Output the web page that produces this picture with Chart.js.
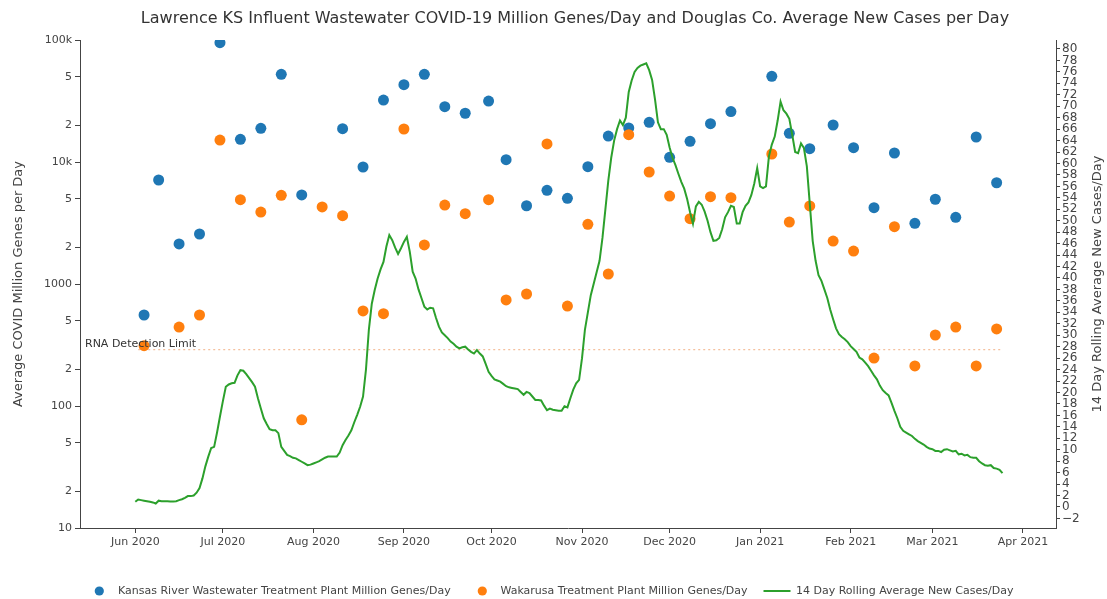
<!DOCTYPE html>
<html><head><meta charset="utf-8">
<script src="https://cdn.jsdelivr.net/npm/chart.js@4/dist/chart.umd.min.js"></script>
<style>html,body{margin:0;padding:0;background:#fff;}#wrap{width:1107px;height:599px;}</style>
</head><body><div id="wrap"><canvas id="c" width="1107" height="599"></canvas></div>
<script>
// ---------- DATA ----------
const chartTitle = 'Lawrence KS Influent Wastewater COVID-19 Million Genes/Day and Douglas Co. Average New Cases per Day';
const leftAxisTitle = 'Average COVID Million Genes per Day';
const rightAxisTitle = '14 Day Rolling Average New Cases/Day';
const seriesNames = ['Kansas River Wastewater Treatment Plant Million Genes/Day','Wakarusa Treatment Plant Million Genes/Day','14 Day Rolling Average New Cases/Day'];

const sampleDates = ['2020-06-04','2020-06-09','2020-06-16','2020-06-23','2020-06-30','2020-07-07','2020-07-14','2020-07-21','2020-07-28','2020-08-04','2020-08-11','2020-08-18','2020-08-25','2020-09-01','2020-09-08','2020-09-15','2020-09-22','2020-09-30','2020-10-06','2020-10-13','2020-10-20','2020-10-27','2020-11-03','2020-11-10','2020-11-17','2020-11-24','2020-12-01','2020-12-08','2020-12-15','2020-12-22','2021-01-05','2021-01-11','2021-01-18','2021-01-26','2021-02-02','2021-02-09','2021-02-16','2021-02-23','2021-03-02','2021-03-09','2021-03-16','2021-03-23'];
const kansasRiver = [557,7120,2130,2570,95000,15350,18900,52300,5370,null,18750,9100,32200,43000,52300,28400,25100,31600,10450,4380,5860,5040,9160,16330,19000,21150,10920,14770,20600,25900,50400,17200,12850,20100,13100,4220,11850,3140,4950,3520,16030,6760];
const wakarusa = [312,null,444,557,15140,4910,3890,5330,77,4280,3630,601,571,18640,2090,4440,3770,4910,740,828,14060,660,3085,1208,16740,8280,5260,3430,5200,5100,11630,3220,4360,2250,1860,247,2950,213,382,444,213,428];

const caseStartDate = '2020-06-01';
const caseAvg = [
0.9,1.3,1.2,1.1,1.0,0.9,0.8,0.6,1.1,1.0,
1.0,1.0,0.95,0.95,1.0,1.2,1.35,1.6,1.9,1.9,
2.0,2.5,3.3,5.0,7.1,8.8,10.3,10.5,13.0,15.8,
18.5,21.0,21.4,21.6,21.7,23.0,23.9,23.8,23.2,22.5,
21.8,21.0,19.0,17.2,15.5,14.5,13.6,13.4,13.4,12.9,
10.5,9.8,9.1,8.9,8.6,8.5,8.2,7.9,7.6,7.3,
7.4,7.6,7.8,8.0,8.3,8.6,8.8,8.8,8.8,8.8,
9.5,10.8,11.7,12.5,13.4,14.8,16.1,17.5,19.3,24.0,
31.0,35.5,37.9,39.9,41.5,42.8,45.5,47.5,46.6,45.3,
44.2,45.2,46.3,47.2,44.6,41.1,39.9,38.0,36.5,35.0,
34.5,34.8,34.7,33.0,31.5,30.5,30.0,29.5,28.9,28.5,
28.0,27.7,27.9,28.0,27.5,27.1,26.8,27.4,26.8,26.3,
25.0,23.6,22.9,22.3,22.1,21.9,21.5,21.1,20.9,20.8,
20.7,20.6,20.1,19.6,20.1,19.9,19.3,18.7,18.7,18.6,
17.7,16.9,17.2,17.0,16.9,16.8,16.8,17.6,17.4,19.0,
20.5,21.6,22.2,26.0,31.0,34.0,37.0,39.0,41.0,43.0,
47.0,52.0,57.0,61.0,64.0,66.0,67.5,66.7,68.0,72.5,
74.5,76.0,76.7,77.1,77.3,77.5,76.3,74.6,71.2,67.2,
66.0,66.0,65.0,62.8,61.0,59.7,58.2,56.8,55.6,53.8,
51.5,49.5,52.5,53.3,52.8,51.6,50.0,48.0,46.5,46.6,
47.0,48.5,50.6,51.5,52.6,52.4,49.5,49.5,51.5,52.6,
53.2,54.5,56.5,59.2,56.0,55.7,56.0,61.2,63.3,64.7,
67.5,70.8,69.3,68.7,67.8,65.0,62.0,61.8,63.5,62.7,
59.5,53.0,46.5,43.0,40.5,39.5,38.0,36.5,34.5,32.8,
31.2,30.2,29.7,29.3,28.8,28.1,27.6,27.1,26.1,25.8,
25.2,24.6,23.8,23.0,22.3,21.2,20.4,19.9,19.5,18.2,
16.8,15.5,14.0,13.3,13.0,12.7,12.4,11.9,11.5,11.2,
10.9,10.5,10.2,10.1,9.8,9.8,9.6,10.0,10.1,9.9,
9.7,9.8,9.2,9.3,9.0,9.1,8.7,8.6,8.6,8.0,
7.6,7.3,7.2,7.3,6.8,6.7,6.5,5.9];

const detectionLimit = 290;
const detectionLabel = 'RNA Detection Limit';
const detectionRange = ['2020-06-02','2021-03-25'];

const xRange = ['2020-05-13T01:30:00Z','2021-04-12T08:00:00Z'];
const monthTicks = ['2020-06-01','2020-07-01','2020-08-01','2020-09-01','2020-10-01','2020-11-01','2020-12-01','2021-01-01','2021-02-01','2021-03-01','2021-04-01'];
const monthNames = ['Jan','Feb','Mar','Apr','May','Jun','Jul','Aug','Sep','Oct','Nov','Dec'];
const leftTicks = [10,20,50,100,200,500,1000,2000,5000,10000,20000,50000,100000];
const leftTickLabels = ['10','2','5','100','2','5','1000','2','5','10k','2','5','100k'];
const rightTicks = [-2,0,2,4,6,8,10,12,14,16,18,20,22,24,26,28,30,32,34,36,38,40,42,44,46,48,50,52,54,56,58,60,62,64,66,68,70,72,74,76,78,80];
const rightRange = [-3.67, 81.57];

// ---------- HELPERS ----------
const DAY = 86400000;
const toMs = s => Date.parse(s.length === 10 ? s + 'T00:00:00Z' : s);
const FONT = '"DejaVu Sans", Verdana, sans-serif';
const COLORS = ['#1f77b4', '#ff7f0e', '#2ca02c'];
const AXIS = '#444';

const blueData = sampleDates.map((d, i) => ({x: toMs(d), y: kansasRiver[i]})).filter(p => p.y != null);
const orangeData = sampleDates.map((d, i) => ({x: toMs(d), y: wakarusa[i]})).filter(p => p.y != null);
const caseData = caseAvg.map((v, i) => ({x: toMs(caseStartDate) + i * DAY, y: v}));
const limitData = detectionRange.map(d => ({x: toMs(d), y: detectionLimit}));

const overlay = {
  id: 'overlay',
  afterDraw(chart) {
    const ctx = chart.ctx;
    ctx.save();
    ctx.fillStyle = '#333';
    ctx.textBaseline = 'middle';
    ctx.font = '16px ' + FONT;
    ctx.textAlign = 'center';
    ctx.fillText(chartTitle, 575, 19);
    ctx.font = '13px ' + FONT;
    ctx.fillStyle = '#444';
    ctx.save(); ctx.translate(18.5, 284); ctx.rotate(-Math.PI / 2); ctx.fillText(leftAxisTitle, 0, 0); ctx.restore();
    ctx.save(); ctx.translate(1097.5, 284); ctx.rotate(-Math.PI / 2); ctx.fillText(rightAxisTitle, 0, 0); ctx.restore();
    const yl = chart.scales.y.getPixelForValue(detectionLimit);
    ctx.font = '11px ' + FONT;
    ctx.fillStyle = '#333';
    ctx.textAlign = 'left';
    ctx.textBaseline = 'alphabetic';
    ctx.fillText(detectionLabel, 85, yl - 3);
    const ly = 591;
    ctx.textBaseline = 'middle';
    const items = [
      {mx: 99.3, tx: 118, kind: 'dot', c: COLORS[0], t: seriesNames[0]},
      {mx: 482.3, tx: 500.5, kind: 'dot', c: COLORS[1], t: seriesNames[1]},
      {mx: 777, tx: 796, kind: 'line', c: COLORS[2], t: seriesNames[2]}
    ];
    items.forEach(it => {
      if (it.kind === 'dot') {
        ctx.beginPath(); ctx.arc(it.mx, ly, 4.6, 0, Math.PI * 2); ctx.fillStyle = it.c; ctx.fill();
      } else {
        ctx.beginPath(); ctx.moveTo(763.5, ly); ctx.lineTo(790.5, ly); ctx.strokeStyle = it.c; ctx.lineWidth = 2; ctx.stroke();
      }
      ctx.fillStyle = '#444';
      ctx.fillText(it.t, it.tx, ly);
    });
    ctx.restore();
  }
};

const tickFont = {family: FONT, size: 11};

new Chart(document.getElementById('c'), {
  type: 'scatter',
  data: {
    datasets: [
      {type: 'line', label: seriesNames[2], data: caseData, yAxisID: 'y1', borderColor: COLORS[2], borderWidth: 2, pointRadius: 0, tension: 0, fill: false, order: 0},
      {type: 'scatter', label: seriesNames[1], data: orangeData, yAxisID: 'y', backgroundColor: COLORS[1], borderWidth: 0, pointRadius: 5.5, order: 1},
      {type: 'scatter', label: seriesNames[0], data: blueData, yAxisID: 'y', backgroundColor: COLORS[0], borderWidth: 0, pointRadius: 5.5, order: 2},
      {type: 'line', label: detectionLabel, data: limitData, yAxisID: 'y', borderColor: 'rgba(240,165,115,0.7)', borderWidth: 1.4, borderDash: [2, 3], pointRadius: 0, fill: false, order: 3}
    ]
  },
  options: {
    responsive: false,
    animation: false,
    devicePixelRatio: 1,
    layout: {padding: {top: 40, left: 0, right: 0, bottom: 0}},
    plugins: {legend: {display: false}, tooltip: {enabled: false}, title: {display: false}},
    scales: {
      x: {
        type: 'linear', position: 'bottom', min: toMs(xRange[0]), max: toMs(xRange[1]),
        afterBuildTicks: s => { s.ticks = monthTicks.map(m => ({value: toMs(m)})); },
        afterFit: s => { s.height = 71; },
        grid: {display: true, drawOnChartArea: false, drawTicks: true, tickLength: 5, tickColor: AXIS, color: AXIS},
        border: {display: true, color: AXIS, width: 1},
        ticks: {font: tickFont, color: AXIS, padding: 3, maxRotation: 0, autoSkip: false,
          callback: v => { const d = new Date(v); return monthNames[d.getUTCMonth()] + ' ' + d.getUTCFullYear(); }}
      },
      y: {
        type: 'logarithmic', position: 'left', min: leftTicks[0], max: leftTicks[leftTicks.length - 1],
        afterBuildTicks: s => { s.ticks = leftTicks.map(v => ({value: v})); },
        afterFit: s => { s.width = 80; },
        grid: {display: true, drawOnChartArea: false, drawTicks: true, tickLength: 5, tickColor: AXIS, color: AXIS},
        border: {display: true, color: AXIS, width: 1},
        ticks: {font: tickFont, color: AXIS, padding: 3, autoSkip: false,
          callback: v => { const i = leftTicks.indexOf(v); return i >= 0 ? leftTickLabels[i] : ''; }}
      },
      y1: {
        type: 'linear', position: 'right', min: rightRange[0], max: rightRange[1],
        afterBuildTicks: s => { s.ticks = rightTicks.map(v => ({value: v})); },
        afterFit: s => { s.width = 51; },
        grid: {display: true, drawOnChartArea: false, drawTicks: true, tickLength: 4, tickColor: AXIS, color: AXIS},
        border: {display: true, color: AXIS, width: 1},
        ticks: {font: {family: FONT, size: 12}, color: AXIS, padding: 2, autoSkip: false,
          callback: v => v < 0 ? '\u2212' + Math.abs(v) : String(v)}
      }
    }
  },
  plugins: [overlay]
});
</script>
</body></html>
